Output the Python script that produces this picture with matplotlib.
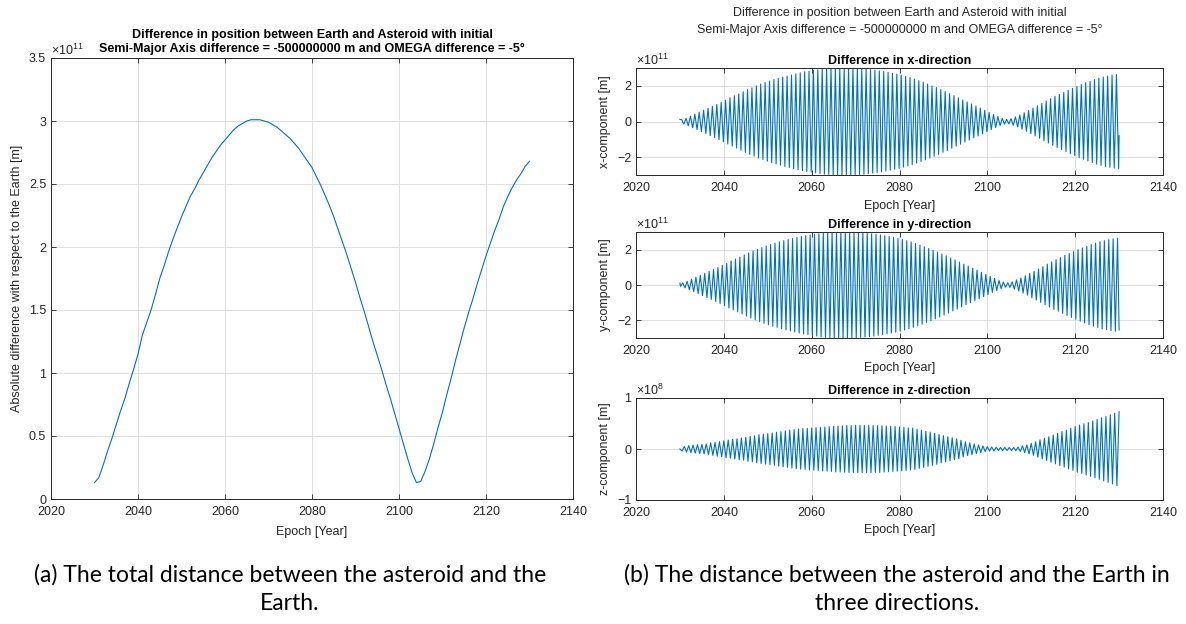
import numpy as np
import matplotlib
matplotlib.use("Agg")
import matplotlib.pyplot as plt
from matplotlib.ticker import FormatStrFormatter

plt.rcParams['font.family'] = ['Liberation Sans', 'DejaVu Sans']
plt.rcParams['mathtext.fontset'] = 'custom'
plt.rcParams['mathtext.rm'] = 'Liberation Sans'
plt.rcParams['font.size'] = 9

# total distance, one value per year 2030..2130 (units of 1e11 m)
dist_years = np.arange(2030, 2131)
dist = [0.13, 0.17, 0.27, 0.38, 0.48, 0.59, 0.70, 0.80, 0.92, 1.03,
        1.15, 1.30, 1.40, 1.50, 1.62, 1.75, 1.85, 1.96, 2.06, 2.15,
        2.24, 2.32, 2.40, 2.46, 2.53, 2.59, 2.65, 2.71, 2.76, 2.81,
        2.85, 2.89, 2.93, 2.96, 2.98, 3.00, 3.01, 3.01, 3.01, 3.00,
        2.99, 2.97, 2.95, 2.92, 2.89, 2.86, 2.82, 2.78, 2.73, 2.68,
        2.63, 2.56, 2.49, 2.41, 2.33, 2.24, 2.14, 2.04, 1.94, 1.83,
        1.72, 1.60, 1.49, 1.37, 1.25, 1.14, 1.03, 0.91, 0.80, 0.68,
        0.56, 0.44, 0.32, 0.21, 0.13, 0.14, 0.22, 0.32, 0.44, 0.57,
        0.69, 0.83, 0.96, 1.10, 1.23, 1.36, 1.48, 1.59, 1.71, 1.82,
        1.93, 2.03, 2.13, 2.22, 2.32, 2.40, 2.47, 2.53, 2.58, 2.64,
        2.68]

# yearly swing extremes of each component, years 2030..2129
years = np.arange(2030, 2130)

x_upper = [0.10, 0.18, 0.30, 0.41, 0.52, 0.63, 0.74, 0.85, 0.96, 1.08,
           1.20, 1.33, 1.44, 1.55, 1.67, 1.79, 1.89, 2.00, 2.10, 2.19,
           2.27, 2.35, 2.42, 2.49, 2.55, 2.61, 2.67, 2.73, 2.78, 2.82,
           2.87, 2.90, 2.94, 2.96, 2.98, 2.99, 3.00, 3.00, 3.00, 2.99,
           2.98, 2.96, 2.94, 2.91, 2.88, 2.84, 2.80, 2.76, 2.71, 2.66,
           2.60, 2.53, 2.46, 2.38, 2.29, 2.20, 2.10, 2.00, 1.90, 1.79,
           1.68, 1.56, 1.45, 1.33, 1.21, 1.10, 0.98, 0.87, 0.75, 0.63,
           0.51, 0.40, 0.28, 0.18, 0.12, 0.16, 0.26, 0.37, 0.49, 0.62,
           0.75, 0.88, 1.01, 1.15, 1.28, 1.41, 1.52, 1.64, 1.75, 1.86,
           1.97, 2.07, 2.17, 2.26, 2.35, 2.43, 2.49, 2.55, 2.60, 2.63]
x_lower = [-0.14, -0.24, -0.35, -0.46, -0.57, -0.68, -0.79, -0.90, -1.02, -1.14,
           -1.26, -1.38, -1.49, -1.61, -1.73, -1.84, -1.94, -2.05, -2.14, -2.23,
           -2.31, -2.38, -2.45, -2.52, -2.58, -2.64, -2.70, -2.75, -2.80, -2.84,
           -2.88, -2.92, -2.95, -2.97, -2.98, -2.99, -3.00, -3.00, -2.99, -2.98,
           -2.97, -2.95, -2.92, -2.89, -2.86, -2.82, -2.78, -2.73, -2.68, -2.63,
           -2.56, -2.49, -2.42, -2.33, -2.24, -2.15, -2.05, -1.95, -1.84, -1.73,
           -1.62, -1.50, -1.39, -1.27, -1.15, -1.04, -0.92, -0.81, -0.69, -0.57,
           -0.45, -0.34, -0.23, -0.15, -0.14, -0.21, -0.31, -0.43, -0.55, -0.68,
           -0.81, -0.94, -1.08, -1.21, -1.34, -1.46, -1.58, -1.69, -1.80, -1.91,
           -2.02, -2.12, -2.21, -2.30, -2.39, -2.46, -2.52, -2.57, -2.61, -2.65]
x_start, x_end = 0.12, -0.80

y_lower = [-0.08, -0.16, -0.27, -0.38, -0.49, -0.60, -0.71, -0.82, -0.93, -1.05,
           -1.17, -1.30, -1.41, -1.52, -1.64, -1.76, -1.87, -1.97, -2.07, -2.17,
           -2.25, -2.33, -2.40, -2.47, -2.54, -2.60, -2.66, -2.72, -2.77, -2.81,
           -2.86, -2.89, -2.93, -2.96, -2.98, -2.99, -3.00, -3.00, -3.00, -2.99,
           -2.98, -2.96, -2.94, -2.92, -2.89, -2.85, -2.81, -2.77, -2.72, -2.67,
           -2.61, -2.55, -2.48, -2.40, -2.31, -2.22, -2.12, -2.02, -1.92, -1.81,
           -1.70, -1.59, -1.47, -1.36, -1.24, -1.12, -1.01, -0.89, -0.78, -0.66,
           -0.54, -0.42, -0.31, -0.20, -0.13, -0.14, -0.23, -0.34, -0.46, -0.58,
           -0.72, -0.85, -0.98, -1.11, -1.25, -1.38, -1.49, -1.61, -1.72, -1.83,
           -1.94, -2.05, -2.15, -2.24, -2.33, -2.41, -2.48, -2.53, -2.58, -2.62]
y_upper = [0.12, 0.21, 0.33, 0.44, 0.55, 0.66, 0.77, 0.88, 0.99, 1.11,
           1.23, 1.36, 1.47, 1.58, 1.70, 1.82, 1.92, 2.02, 2.12, 2.21,
           2.29, 2.37, 2.44, 2.51, 2.57, 2.63, 2.69, 2.74, 2.79, 2.83,
           2.88, 2.91, 2.94, 2.97, 2.98, 2.99, 3.00, 3.00, 2.99, 2.99,
           2.97, 2.95, 2.93, 2.90, 2.87, 2.83, 2.79, 2.74, 2.70, 2.64,
           2.58, 2.51, 2.44, 2.35, 2.26, 2.17, 2.07, 1.97, 1.87, 1.76,
           1.65, 1.53, 1.42, 1.30, 1.18, 1.07, 0.95, 0.84, 0.72, 0.60,
           0.48, 0.37, 0.26, 0.16, 0.13, 0.18, 0.29, 0.40, 0.52, 0.65,
           0.78, 0.91, 1.04, 1.18, 1.31, 1.44, 1.55, 1.67, 1.78, 1.89,
           2.00, 2.10, 2.19, 2.28, 2.37, 2.45, 2.51, 2.56, 2.61, 2.65]
y_start, y_end = 0.10, -2.55

# z-component in units of 1e8 m
z_lower = [-0.04, -0.06, -0.07, -0.08, -0.09, -0.095, -0.11, -0.125, -0.14, -0.15,
           -0.17, -0.18, -0.195, -0.21, -0.22, -0.24, -0.25, -0.27, -0.285, -0.295,
           -0.31, -0.32, -0.335, -0.35, -0.36, -0.375, -0.385, -0.395, -0.40, -0.41,
           -0.415, -0.42, -0.43, -0.435, -0.44, -0.45, -0.45, -0.455, -0.46, -0.46,
           -0.465, -0.465, -0.465, -0.465, -0.46, -0.46, -0.45, -0.445, -0.44, -0.435,
           -0.43, -0.42, -0.41, -0.40, -0.38, -0.36, -0.34, -0.32, -0.30, -0.27,
           -0.25, -0.23, -0.21, -0.19, -0.155, -0.13, -0.11, -0.09, -0.07, -0.05,
           -0.04, -0.04, -0.03, -0.03, -0.03, -0.03, -0.035, -0.05, -0.07, -0.095,
           -0.125, -0.16, -0.195, -0.225, -0.26, -0.29, -0.325, -0.355, -0.39, -0.42,
           -0.455, -0.48, -0.51, -0.535, -0.565, -0.595, -0.625, -0.655, -0.685, -0.72]
z_upper = [0.05, 0.065, 0.075, 0.085, 0.09, 0.10, 0.12, 0.13, 0.145, 0.16,
           0.175, 0.19, 0.20, 0.215, 0.23, 0.245, 0.26, 0.28, 0.29, 0.30,
           0.315, 0.33, 0.34, 0.355, 0.37, 0.38, 0.39, 0.40, 0.405, 0.41,
           0.42, 0.425, 0.43, 0.44, 0.445, 0.45, 0.455, 0.46, 0.46, 0.465,
           0.465, 0.465, 0.465, 0.46, 0.46, 0.455, 0.45, 0.445, 0.44, 0.43,
           0.425, 0.415, 0.41, 0.39, 0.37, 0.35, 0.33, 0.31, 0.285, 0.26,
           0.24, 0.22, 0.20, 0.17, 0.14, 0.12, 0.10, 0.08, 0.06, 0.045,
           0.04, 0.035, 0.03, 0.03, 0.03, 0.03, 0.04, 0.06, 0.08, 0.11,
           0.14, 0.18, 0.21, 0.24, 0.275, 0.31, 0.34, 0.37, 0.405, 0.44,
           0.47, 0.495, 0.52, 0.55, 0.58, 0.61, 0.64, 0.67, 0.70, 0.73]
z_start = 0.0

title_main = ("Difference in position between Earth and Asteroid with initial\n"
              "Semi-Major Axis difference = -500000000 m and OMEGA difference = -5\u00b0")
caption_a = "(a) The total distance between the asteroid and the\nEarth."
caption_b = "(b) The distance between the asteroid and the Earth in\nthree directions."

BLUE = '#0072BD'
DARK = '#262626'


def interleave(a, b):
    return np.column_stack([a, b]).ravel()


def style(ax):
    ax.grid(True, color='#dedede', linewidth=0.7)
    ax.set_axisbelow(True)
    ax.tick_params(direction='in', top=True, right=True, length=3.5,
                   width=0.6, colors=DARK, labelsize=9)
    ax.tick_params(axis='x', pad=5)
    for s in ax.spines.values():
        s.set_color(DARK)
        s.set_linewidth(0.7)
    ax.set_xlim(2020, 2140)
    ax.set_xticks(np.arange(2020, 2141, 20))


def exponent(ax, power):
    ax.text(0.0, 1.0, r'$\times10^{%d}$' % power, transform=ax.transAxes,
            ha='left', va='bottom', fontsize=9, color=DARK)


W, H = 1186, 624
fig = plt.figure(figsize=(W / 100, H / 100), dpi=100)


def box(left, top, right, bottom):
    return [left / W, 1 - bottom / H, (right - left) / W, (bottom - top) / H]


# total distance
ax0 = fig.add_axes(box(51, 58, 573, 499))
style(ax0)
ax0.plot(dist_years, dist, color=BLUE, linewidth=0.8)
ax0.set_ylim(0, 3.5)
ax0.set_yticks(np.arange(0, 3.51, 0.5))
ax0.yaxis.set_major_formatter(FormatStrFormatter('%g'))
ax0.set_title(title_main, fontsize=9, fontweight='bold', pad=4, linespacing=1.3)
ax0.set_xlabel('Epoch [Year]', color=DARK, labelpad=6)
ax0.set_ylabel('Absolute difference with respect to the Earth [m]', color=DARK)
exponent(ax0, 11)

# components
x_t = np.concatenate([[2030.0], interleave(years + 0.4, years + 0.9), [2130.0]])
x_v = np.concatenate([[x_start], interleave(x_upper, x_lower), [x_end]])
y_t = np.concatenate([[2030.0], interleave(years + 0.15, years + 0.65), [2130.0]])
y_v = np.concatenate([[y_start], interleave(y_lower, y_upper), [y_end]])
z_t = np.concatenate([[2030.0], interleave(years + 0.5, years + 1.0)])
z_v = np.concatenate([[z_start], interleave(z_lower, z_upper)])

panels = [
    (box(636, 68, 1163, 175), x_t, x_v, 'x', 3, 11, [-2, 0, 2]),
    (box(636, 232, 1163, 338), y_t, y_v, 'y', 3, 11, [-2, 0, 2]),
    (box(636, 398, 1163, 500), z_t, z_v, 'z', 1, 8, [-1, 0, 1]),
]
for rect, t, v, name, lim, power, ticks in panels:
    ax = fig.add_axes(rect)
    style(ax)
    ax.plot(t, v, color=BLUE, linewidth=0.8)
    ax.set_ylim(-lim, lim)
    ax.set_yticks(ticks)
    ax.set_title('Difference in %s-direction' % name, fontsize=9,
                 fontweight='bold', pad=3)
    ax.set_xlabel('Epoch [Year]', color=DARK, labelpad=4)
    ax.set_ylabel('%s-component [m]' % name, color=DARK)
    exponent(ax, power)

fig.text(900 / W, 1 - 7 / H, title_main, ha='center', va='top', fontsize=9,
         color=DARK, linespacing=1.6)

# sub-figure captions
cap_font = ['Lato', 'DejaVu Sans']
fig.text(290 / W, 1 - 589 / H, caption_a, ha='center', va='center',
         fontsize=16.5, family=cap_font, linespacing=1.4)
fig.text(897 / W, 1 - 589 / H, caption_b, ha='center', va='center',
         fontsize=16.5, family=cap_font, linespacing=1.4)

fig.savefig('out.png', dpi=100)
